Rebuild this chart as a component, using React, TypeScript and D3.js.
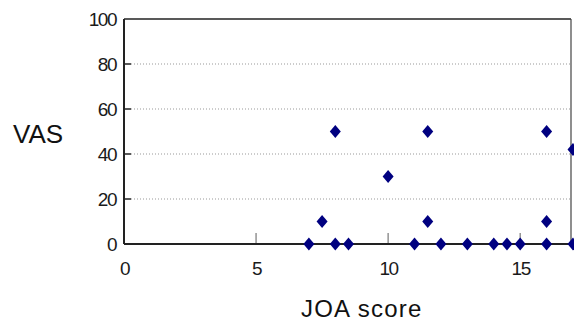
import React, { useEffect, useRef } from 'react';
import * as d3 from 'd3';

const joa = [7, 7.5, 8, 8, 8.5, 10, 11, 11.5, 11.5, 12, 13, 14, 14.5, 15, 16, 16, 16, 17, 17];
const vas = [0, 10, 50, 0, 0, 30, 0, 50, 10, 0, 0, 0, 0, 0, 50, 10, 0, 42, 0];
const xTicks = [0, 5, 10, 15];
const yTicks = [0, 20, 40, 60, 80, 100];

const App = () => {
  const ref = useRef<SVGSVGElement>(null);

  useEffect(() => {
    const svg = d3.select(ref.current);
    svg.selectAll('*').remove();

    const left = 124, right = 571, top = 19, bottom = 244;
    const x = d3.scaleLinear().domain([0, 17]).range([left, right + 2]);
    const y = d3.scaleLinear().domain([0, 100]).range([bottom, top]);
    const font = 'Liberation Sans, Arial, sans-serif';

    // dotted gridlines
    svg.append('g')
      .selectAll('line')
      .data(yTicks.filter(d => d > 0 && d < 100))
      .join('line')
      .attr('x1', left + 7)
      .attr('x2', right)
      .attr('y1', d => y(d))
      .attr('y2', d => y(d))
      .attr('stroke', '#999')
      .attr('stroke-width', 1)
      .attr('stroke-dasharray', '1,2');

    // frame
    svg.append('line').attr('x1', left).attr('x2', right).attr('y1', top).attr('y2', top)
      .attr('stroke', '#222').attr('stroke-width', 1.5);
    svg.append('line').attr('x1', right).attr('x2', right).attr('y1', top).attr('y2', bottom)
      .attr('stroke', '#444').attr('stroke-width', 1.2);

    // y inner ticks
    svg.append('g')
      .selectAll('line')
      .data(yTicks.filter(d => d > 0 && d < 100))
      .join('line')
      .attr('x1', left)
      .attr('x2', left + 7)
      .attr('y1', d => y(d))
      .attr('y2', d => y(d))
      .attr('stroke', '#222')
      .attr('stroke-width', 1.5);

    // x inner ticks
    svg.append('g')
      .selectAll('line')
      .data(xTicks.filter(d => d > 0))
      .join('line')
      .attr('x1', d => x(d))
      .attr('x2', d => x(d))
      .attr('y1', bottom)
      .attr('y2', bottom - 11)
      .attr('stroke', '#777')
      .attr('stroke-width', 1.2);

    // axes lines
    svg.append('line').attr('x1', left).attr('x2', left).attr('y1', top).attr('y2', bottom)
      .attr('stroke', '#222').attr('stroke-width', 2);
    svg.append('line').attr('x1', left).attr('x2', right).attr('y1', bottom).attr('y2', bottom)
      .attr('stroke', '#222').attr('stroke-width', 2);

    // y tick labels
    svg.append('g')
      .selectAll('text')
      .data(yTicks)
      .join('text')
      .attr('x', 116)
      .attr('y', d => y(d))
      .attr('dy', '0.36em')
      .attr('text-anchor', 'end')
      .attr('font-family', font)
      .attr('font-size', 19)
      .attr('letter-spacing', -1.5)
      .attr('fill', '#1a1a1a')
      .text(d => d);

    // x tick labels
    svg.append('g')
      .selectAll('text')
      .data(xTicks)
      .join('text')
      .attr('x', d => x(d) + 0.5)
      .attr('y', 275)
      .attr('text-anchor', 'middle')
      .attr('font-family', font)
      .attr('font-size', 19)
      .attr('letter-spacing', -1.5)
      .attr('fill', '#1a1a1a')
      .text(d => d);

    // axis titles
    svg.append('text')
      .attr('x', 13)
      .attr('y', 143)
      .attr('font-family', font)
      .attr('font-size', 26)
      .attr('fill', '#111')
      .text('VAS');

    svg.append('text')
      .attr('x', 301)
      .attr('y', 317)
      .attr('font-family', font)
      .attr('font-size', 24)
      .attr('letter-spacing', 1.2)
      .attr('fill', '#111')
      .text('JOA score');

    // diamond markers
    const diamond = 'M0,-6.5L5.5,0L0,6.5L-5.5,0Z';
    svg.append('g')
      .selectAll('path')
      .data(joa.map((j, i) => ({ j, v: vas[i] })))
      .join('path')
      .attr('transform', d => `translate(${x(d.j)},${y(d.v)})`)
      .attr('d', diamond)
      .attr('fill', '#000080');
  }, []);

  return (
    <svg ref={ref} width={574} height={321}
      style={{ position: 'absolute', left: 0, top: 0, background: '#fff' }} />
  );
};

export default App;
